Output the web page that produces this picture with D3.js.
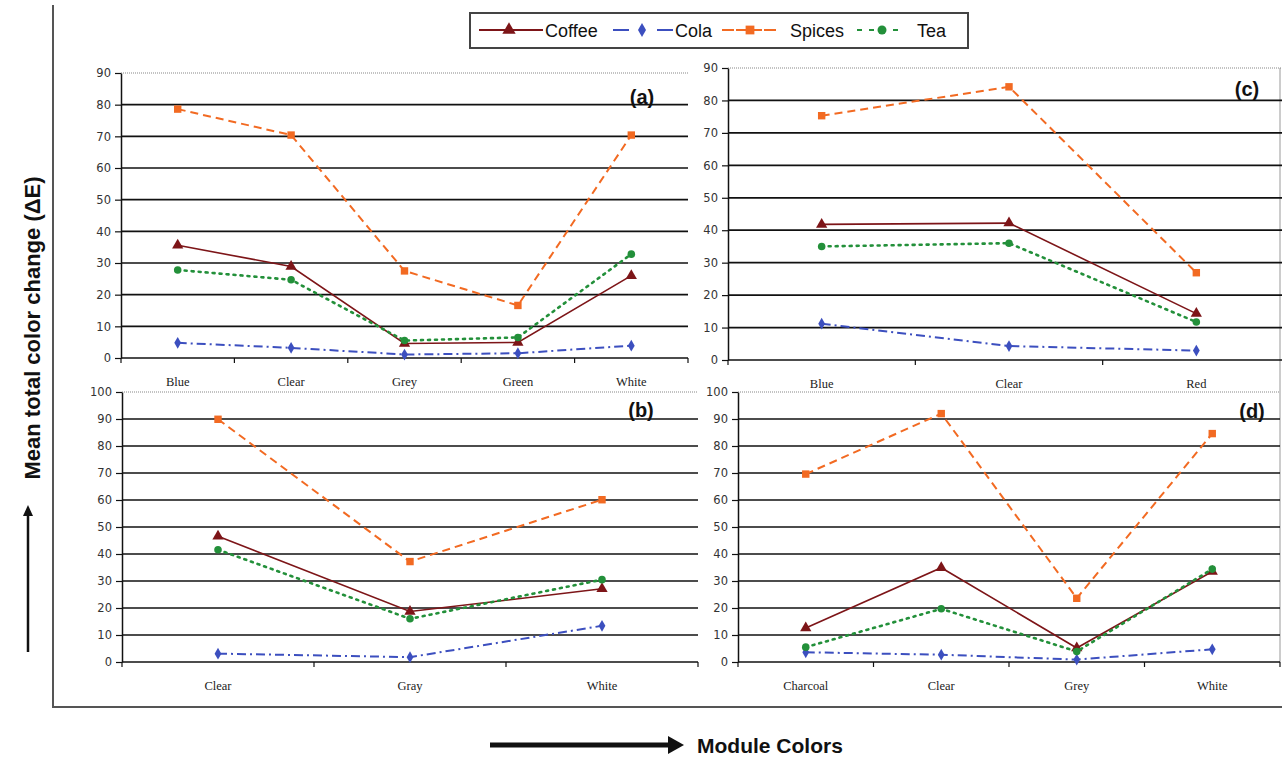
<!DOCTYPE html>
<html>
<head>
<meta charset="utf-8">
<script src="https://cdn.jsdelivr.net/npm/d3@7"></script>
<style>
body { margin: 0; background: #fff; }
</style>
</head>
<body>
<svg id="chart" width="1282" height="761"></svg>
<script>
// series names
const seriesNames = ["Coffee", "Cola", "Spices", "Tea"];

// panel (a)
const catsA = ["Blue", "Clear", "Grey", "Green", "White"];
const coffeeA = [35.6, 28.9, 4.6, 4.9, 26.0];
const colaA = [4.8, 3.2, 1.1, 1.5, 3.9];
const spicesA = [78.6, 70.4, 27.5, 16.6, 70.4];
const teaA = [27.8, 24.7, 5.5, 6.5, 32.8];

// panel (b)
const catsB = ["Clear", "Gray", "White"];
const coffeeB = [46.6, 18.7, 27.1];
const colaB = [3.1, 1.8, 13.4];
const spicesB = [89.9, 37.2, 60.1];
const teaB = [41.6, 16.0, 30.5];

// panel (c)
const catsC = ["Blue", "Clear", "Red"];
const coffeeC = [41.8, 42.2, 14.3];
const colaC = [11.2, 4.3, 2.9];
const spicesC = [75.3, 84.2, 26.9];
const teaC = [35.0, 36.0, 11.7];

// panel (d)
const catsD = ["Charcoal", "Clear", "Grey", "White"];
const coffeeD = [12.6, 34.9, 5.2, 33.5];
const colaD = [3.6, 2.7, 0.9, 4.7];
const spicesD = [69.6, 92.0, 23.6, 84.6];
const teaD = [5.5, 19.7, 3.9, 34.4];

const yTicks90 = [0, 10, 20, 30, 40, 50, 60, 70, 80, 90];
const yTicks100 = [0, 10, 20, 30, 40, 50, 60, 70, 80, 90, 100];

const style = {
    Coffee: {color: "#7d1518", dash: null, width: 1.6, symbol: d3.symbolTriangle, size: 55},
    Cola: {color: "#3c4fbf", dash: "9,4,2,4", width: 2, symbol: d3.symbolDiamond, size: 40},
    Spices: {color: "#f26a22", dash: "8,5", width: 2, symbol: d3.symbolSquare, size: 55},
    Tea: {color: "#23903a", dash: "2,5", width: 2.6, symbol: d3.symbolCircle, size: 45}
};

const panels = [
    {tag: "(a)", cats: catsA, vals: [coffeeA, colaA, spicesA, teaA], ticks: yTicks90,
     x0: 121, x1: 688, yTop: 73, yBot: 358, tagX: 642, tagY: 104},
    {tag: "(c)", cats: catsC, vals: [coffeeC, colaC, spicesC, teaC], ticks: yTicks90,
     x0: 728, x1: 1290, yTop: 68, yBot: 360, tagX: 1247, tagY: 96},
    {tag: "(b)", cats: catsB, vals: [coffeeB, colaB, spicesB, teaB], ticks: yTicks100,
     x0: 122, x1: 698, yTop: 392, yBot: 662, tagX: 641, tagY: 417},
    {tag: "(d)", cats: catsD, vals: [coffeeD, colaD, spicesD, teaD], ticks: yTicks100,
     x0: 738, x1: 1280, yTop: 392, yBot: 662, tagX: 1252, tagY: 418}
];

const svg = d3.select("#chart");

// outer frame
svg.append("path")
    .attr("d", "M53,5 V707 H1282")
    .attr("fill", "none")
    .attr("stroke", "#555")
    .attr("stroke-width", 2);

// right edge of right-hand plots
svg.append("line")
    .attr("x1", 1280).attr("x2", 1280).attr("y1", 68).attr("y2", 662)
    .attr("stroke", "#999").attr("stroke-width", 1);

panels.forEach(p => {
    const g = svg.append("g");
    const yMax = p.ticks[p.ticks.length - 1];

    const x = d3.scaleBand()
        .domain(p.cats)
        .range([p.x0, p.x1]);

    const y = d3.scaleLinear()
        .domain([0, yMax])
        .range([p.yBot, p.yTop]);

    // gridlines
    g.selectAll(".grid")
        .data(p.ticks.filter(t => t > 0 && t < yMax))
        .enter()
        .append("line")
        .attr("x1", p.x0).attr("x2", Math.min(p.x1, 1282))
        .attr("y1", d => y(d)).attr("y2", d => y(d))
        .attr("stroke", "#111")
        .attr("stroke-width", 1.7);

    // top border dotted
    g.append("line")
        .attr("x1", p.x0).attr("x2", Math.min(p.x1, 1282))
        .attr("y1", y(yMax)).attr("y2", y(yMax))
        .attr("stroke", "#888")
        .attr("stroke-width", 1.2)
        .attr("stroke-dasharray", "1,1");

    // y axis
    const yAxis = g.append("g")
        .attr("transform", `translate(${p.x0},0)`)
        .call(d3.axisLeft(y).tickValues(p.ticks).tickSize(6).tickPadding(4).tickSizeOuter(0));
    yAxis.select(".domain").attr("stroke", "#111").attr("stroke-width", 1.5);
    yAxis.selectAll(".tick line").attr("stroke", "#111").attr("stroke-width", 1.2);
    yAxis.selectAll("text")
        .attr("font-family", "DejaVu Sans")
        .attr("font-size", 11.5)
        .attr("fill", "#333");

    // x axis: ticks at band boundaries
    const bounds = p.cats.map(c => x(c)).concat([p.x1]);
    g.append("line")
        .attr("x1", p.x0).attr("x2", Math.min(p.x1, 1282))
        .attr("y1", p.yBot).attr("y2", p.yBot)
        .attr("stroke", "#111").attr("stroke-width", 1.6);
    g.selectAll(".xtick")
        .data(bounds)
        .enter()
        .append("line")
        .attr("x1", d => d).attr("x2", d => d)
        .attr("y1", p.yBot).attr("y2", p.yBot + 5)
        .attr("stroke", "#111").attr("stroke-width", 1.2);
    g.selectAll(".xlabel")
        .data(p.cats)
        .enter()
        .append("text")
        .attr("x", d => x(d) + x.bandwidth() / 2)
        .attr("y", p.yBot + 28)
        .attr("text-anchor", "middle")
        .attr("font-family", "Liberation Serif")
        .attr("font-size", 12.5)
        .attr("fill", "#222")
        .text(d => d);

    // series lines and markers
    seriesNames.forEach((name, i) => {
        const s = style[name];
        const pts = p.cats.map((c, j) => ({c: c, v: p.vals[i][j]}));
        const line = d3.line()
            .x(d => x(d.c) + x.bandwidth() / 2)
            .y(d => y(d.v));
        g.append("path")
            .datum(pts)
            .attr("d", line)
            .attr("fill", "none")
            .attr("stroke", s.color)
            .attr("stroke-width", s.width)
            .attr("stroke-dasharray", s.dash)
            .attr("stroke-linecap", name === "Tea" ? "round" : "butt");
        g.selectAll(".m" + name)
            .data(pts)
            .enter()
            .append("path")
            .attr("transform", d => `translate(${x(d.c) + x.bandwidth() / 2},${y(d.v)})`)
            .attr("d", d3.symbol().type(s.symbol).size(s.size))
            .attr("fill", s.color);
    });

    // panel tag
    g.append("text")
        .attr("x", p.tagX)
        .attr("y", p.tagY)
        .attr("text-anchor", "middle")
        .attr("font-family", "Liberation Sans")
        .attr("font-weight", "bold")
        .attr("font-size", 20)
        .attr("fill", "#111")
        .text(p.tag);
});

// legend
const legend = svg.append("g");
legend.append("rect")
    .attr("x", 470).attr("y", 13).attr("width", 498).attr("height", 35)
    .attr("fill", "#fff").attr("stroke", "#444").attr("stroke-width", 2);

const legendItems = [
    {name: "Coffee", lx1: 479, lx2: 543, mx: 509, dash: null, tx: 545},
    {name: "Cola", lx1: 613, lx2: 673, mx: 642, dash: "16,28", tx: 675},
    {name: "Spices", lx1: 722, lx2: 778, mx: 750, dash: "12,2", tx: 790},
    {name: "Tea", lx1: 857, lx2: 904, mx: 882, dash: "5,7", tx: 917}
];
legendItems.forEach(it => {
    const s = style[it.name];
    legend.append("line")
        .attr("x1", it.lx1).attr("x2", it.lx2).attr("y1", 30).attr("y2", 30)
        .attr("stroke", s.color).attr("stroke-width", 2.2)
        .attr("stroke-dasharray", it.dash);
    legend.append("path")
        .attr("transform", `translate(${it.mx},30)`)
        .attr("d", d3.symbol().type(s.symbol).size(s.size * 1.4))
        .attr("fill", s.color);
    legend.append("text")
        .attr("x", it.tx).attr("y", 36.5)
        .attr("font-family", "Liberation Sans")
        .attr("font-size", 18)
        .attr("fill", "#111")
        .text(it.name);
});

// y title with arrow
svg.append("text")
    .attr("transform", "translate(40,328) rotate(-90)")
    .attr("text-anchor", "middle")
    .attr("font-family", "Liberation Sans")
    .attr("font-weight", "bold")
    .attr("font-size", 22)
    .attr("fill", "#111")
    .text("Mean total color change (ΔE)");
svg.append("line")
    .attr("x1", 28).attr("x2", 28).attr("y1", 652).attr("y2", 514)
    .attr("stroke", "#111").attr("stroke-width", 2.5);
svg.append("path")
    .attr("d", "M23,516 L28,505 L33,516 Z")
    .attr("fill", "#111");

// x title with arrow
svg.append("line")
    .attr("x1", 490).attr("x2", 672).attr("y1", 745).attr("y2", 745)
    .attr("stroke", "#111").attr("stroke-width", 5);
svg.append("path")
    .attr("d", "M668,736 L684,745 L668,754 Z")
    .attr("fill", "#111");
svg.append("text")
    .attr("x", 697).attr("y", 753)
    .attr("font-family", "Liberation Sans")
    .attr("font-weight", "bold")
    .attr("font-size", 21)
    .attr("fill", "#111")
    .text("Module Colors");
</script>
</body>
</html>
